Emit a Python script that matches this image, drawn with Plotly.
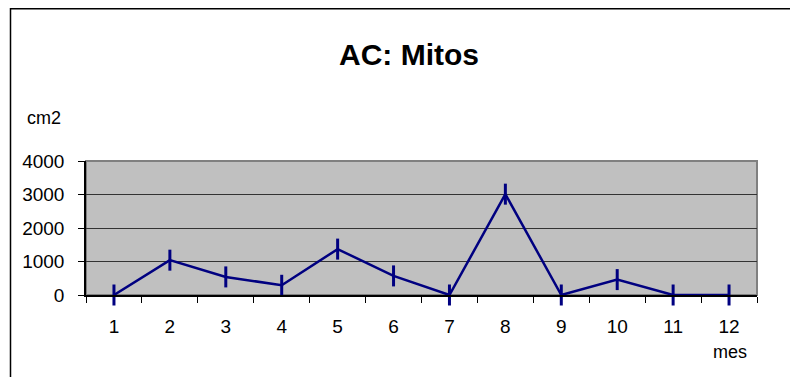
import plotly.graph_objects as go

months = ["1", "2", "3", "4", "5", "6", "7", "8", "9", "10", "11", "12"]
area_cm2 = [0, 1040, 540, 290, 1370, 570, 0, 3010, 0, 460, 0, 0]
y_ticks = [0, 1000, 2000, 3000, 4000]

navy = "#000080"
font = "Liberation Sans, Arial, sans-serif"

fig = go.Figure()
fig.add_trace(go.Scatter(
    x=months, y=area_cm2, mode="lines+markers",
    line=dict(color=navy, width=2.5),
    marker=dict(symbol="line-ns", size=15, line=dict(color=navy, width=3)),
    showlegend=False, cliponaxis=False,
))

# page body has an 8px margin; work in screen coords and subtract it
OFF = 8
W, H = 798 - 2 * OFF, 385 - 2 * OFF
PL, PR, PT, PB = 86, 757, 161, 295          # plot area in screen coords
L, T = PL - OFF, PT - OFF
R, B = W - (PR - OFF), H - (PB - OFF)
pw, ph = W - L - R, H - T - B

def px(x):
    return (x - OFF - L) / pw

def py(y):
    return (H - B - (y - OFF)) / ph

fig.update_layout(
    width=W, height=H,
    margin=dict(l=L, r=R, t=T, b=B),
    paper_bgcolor="white", plot_bgcolor="#C0C0C0",
    font=dict(family=font, size=19, color="black"),
    title=dict(text="<b>AC: Mitos</b>", x=px(409), xref="paper", xanchor="center",
               y=1 - (54 - OFF) / H, yanchor="middle", font=dict(size=30, family=font)),
    xaxis=dict(type="category", tickson="boundaries", ticks="outside", ticklen=6,
               tickcolor="black", tickwidth=1, showline=True, linecolor="black",
               linewidth=1.5, showgrid=False, ticklabelstandoff=13,
               range=[-0.5, 11.5], fixedrange=True),
    yaxis=dict(range=[0, 4000], tickvals=y_ticks, ticks="outside", ticklen=6,
               tickcolor="black", showline=True, linecolor="black", linewidth=1.5,
               showgrid=True, gridcolor="#333333", gridwidth=1, zeroline=False,
               ticklabelstandoff=10),
    shapes=[
        dict(type="rect", xref="paper", yref="paper", x0=0, x1=1, y0=0, y1=1,
             line=dict(color="#808080", width=2), layer="below"),
        dict(type="rect", xref="paper", yref="paper", x0=px(10.5), x1=px(900),
             y0=py(500), y1=py(8.8), line=dict(color="black", width=1.5), layer="above"),
    ],
    annotations=[
        dict(text="cm2", xref="paper", yref="paper", x=px(25), y=py(118),
             xanchor="left", yanchor="middle", showarrow=False, font=dict(size=18)),
        dict(text="mes", xref="paper", yref="paper", x=px(730), y=py(352),
             xanchor="center", yanchor="middle", showarrow=False, font=dict(size=18)),
    ],
)

fig.write_html("out.html")
